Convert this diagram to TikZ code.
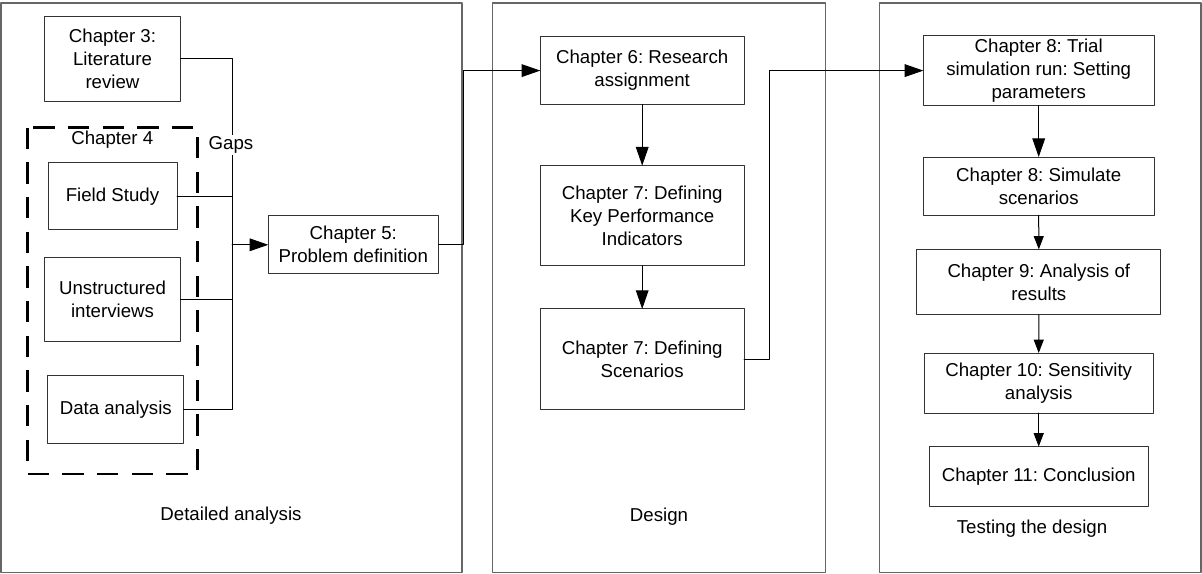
\documentclass[tikz,border=0pt]{standalone}
\usepackage{fontspec}
\setmainfont{Liberation Sans}
\usepackage{tikz}
\usetikzlibrary{arrows.meta}
\frenchspacing
\tikzset{chap/.style={draw=black!80,line width=0.75pt,inner sep=0pt,outer sep=0pt,align=center,font=\fontsize{14pt}{17.25pt}\selectfont},
    panel/.style={draw=black!60,line width=1.1pt},
    plabel/.style={font=\fontsize{14pt}{17.25pt}\selectfont},
    conn/.style={line width=0.75pt,black},
    smalltip/.style={-{Triangle[length=10pt,width=7.5pt]}}}

\begin{document}
\begin{tikzpicture}[line cap=round,line join=round,>={Triangle[length=14pt,width=9.5pt]},x=0.75pt,y=-0.75pt]
                \useasboundingbox (0,0) rectangle (1202,574);
                % panels
                \draw [panel] (1,3) rectangle (462,572.7);
                \draw [panel] (492.3,3) rectangle (825.3,572.7);
                \draw [panel] (879.3,3) rectangle (1201,572.7);
                \node[plabel] (lbla) at (231,516) {Detailed analysis};
                \node[plabel] (lblb) at (659,517) {Design};
                \node[plabel] (lblc) at (1032,529) {Testing the design};
                % chapter 4 group
                \draw [line width=2.2pt,dash pattern=on 16pt off 10pt,line cap=butt] (27.3,127.7) rectangle (197.3,474);
                \node[plabel] (grp) at (112.3,139.3) {Chapter 4};
                % boxes
                \node[chap,minimum width=101.7pt,minimum height=63.5pt] (ch3) at (112.5,58.7) {Chapter 3:\\Literature\\review};
                \node[chap,minimum width=96.75pt,minimum height=50.5pt] (fs) at (112.5,196.3) {Field Study};
                \node[chap,minimum width=101.7pt,minimum height=63.3pt] (ui) at (112.5,299.5) {Unstructured\\interviews};
                \node[chap,minimum width=101.8pt,minimum height=50.8pt] (da) at (115.8,409.8) {Data analysis};
                \node[chap,minimum width=127.5pt,minimum height=43.7pt] (ch5) at (353.3,244.8) {Chapter 5:\\Problem definition};
                \node[chap,minimum width=152.8pt,minimum height=50.9pt] (ch6) at (642.2,70.6) {Chapter 6: Research\\assignment};
                \node[chap,minimum width=152.8pt,minimum height=75.2pt] (kpi) at (642.2,215.8) {Chapter 7: Defining\\Key Performance\\Indicators};
                \node[chap,minimum width=152.8pt,minimum height=75.5pt] (scen) at (642.2,359.3) {Chapter 7: Defining\\Scenarios};
                \node[chap,minimum width=173pt,minimum height=52pt] (trial) at (1038.7,70.6) {Chapter 8: Trial\\simulation run: Setting\\parameters};
                \node[chap,minimum width=173pt,minimum height=43.7pt] (sim) at (1038.7,186.2) {Chapter 8: Simulate\\scenarios};
                \node[chap,minimum width=183.2pt,minimum height=48.9pt] (res) at (1038.8,282) {Chapter 9: Analysis of\\results};
                \node[chap,minimum width=171.8pt,minimum height=45pt] (sens) at (1038.7,383) {Chapter 10: Sensitivity\\analysis};
                \node[chap,minimum width=164.3pt,minimum height=44.6pt] (concl) at (1038.7,476.3) {Chapter 11: Conclusion};
                % connectors
                \coordinate (jn) at (232,244.8);
                \coordinate (k1) at (463.3,244.8);
                \coordinate (k2) at (769.3,359.3);
                \draw [conn] (ch3.east) -| (jn);
                \draw [conn] (fs.east) -| (jn);
                \draw [conn] (ui.east) -| (jn);
                \draw [conn] (da.east) -| (jn);
                \draw [conn,->] (jn) -- (ch5.west);
                \node[plabel,fill=white,inner sep=1pt] (gaps) at (231,145) {Gaps};
                \draw [conn,->] (ch5.east) -- (k1) |- (ch6.west);
                \draw [conn,->] (ch6.south) -- (kpi.north);
                \draw [conn,->] (kpi.south) -- (scen.north);
                \draw [conn,->] (scen.east) -- (k2) |- (trial.west);
                \draw [conn,->] (trial.south) -- (sim.north);
                \draw [conn,smalltip] (sim.south) -- (res.north);
                \draw [conn,smalltip] (res.south) -- (sens.north);
                \draw [conn,smalltip] (sens.south) -- (concl.north);
            \end{tikzpicture}
\end{document}
